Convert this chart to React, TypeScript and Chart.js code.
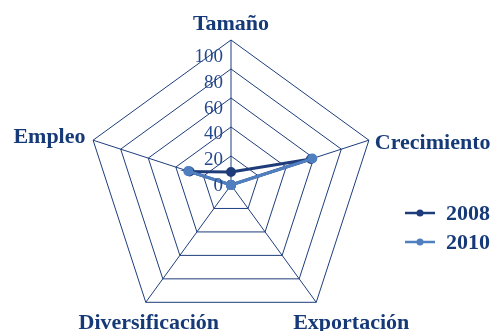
import React, { useEffect, useRef } from "react";
import { Chart, registerables } from "chart.js";

Chart.register(...registerables);

const categories = ["Tamaño", "Crecimiento", "Exportación", "Diversificación", "Empleo"];
const seriesNames = ["2008", "2010"];
const values2008 = [9, 58, 0, 0, 30];
const values2010 = [0, 59, 0, 0, 31];
const tickValues = [0, 20, 40, 60, 80, 100];

const NAVY = "#1d3d7c";
const TEXT = "#163a78";
const COLORS = ["#1f3c7a", "#4f7fbf"];

const labelPlugin = {
  id: "customLabels",
  afterDraw(chart: any) {
    const ctx = chart.ctx;
    const scale = chart.scales.r;
    const xc = scale.xCenter;
    const yc = scale.yCenter;
    ctx.save();
    // tick labels
    ctx.font = '19px "Liberation Serif"';
    ctx.fillStyle = "#24498c";
    ctx.textAlign = "right";
    ctx.textBaseline = "middle";
    tickValues.forEach((v) => {
      const d = scale.getDistanceFromCenterForValue(v) * 0.89;
      ctx.fillText(String(v), xc - 8, yc - d + 1);
    });
    // point labels
    ctx.font = 'bold 22px "Liberation Serif"';
    ctx.fillStyle = TEXT;
    ctx.textBaseline = "middle";
    const R = scale.drawingArea;
    const cfg = [
      { extra: 16, dx: 0, dy: 0, align: "center" },
      { extra: 2, dx: 4, dy: 4, align: "left" },
      { extra: 0, dx: 35, dy: 21, align: "center" },
      { extra: 0, dx: 3, dy: 21, align: "center" },
      { extra: 8, dx: 0, dy: 0, align: "right" },
    ];
    categories.forEach((label, i) => {
      const c = cfg[i];
      const p = scale.getPointPosition(i, R + c.extra);
      ctx.textAlign = c.align;
      ctx.fillText(label, p.x + c.dx, p.y + c.dy);
    });
    // legend
    chart.data.datasets.forEach((ds: any, i: number) => {
      const y = 213 + i * 29;
      ctx.strokeStyle = ds.borderColor;
      ctx.lineWidth = 2.5;
      ctx.beginPath();
      ctx.moveTo(405, y);
      ctx.lineTo(435, y);
      ctx.stroke();
      ctx.fillStyle = ds.borderColor;
      ctx.beginPath();
      ctx.arc(420, y, 3.5, 0, Math.PI * 2);
      ctx.fill();
      ctx.fillStyle = TEXT;
      ctx.textAlign = "left";
      ctx.font = 'bold 22px "Liberation Serif"';
      ctx.fillText(ds.label, 446, y + 1);
    });
    ctx.restore();
  },
};

export default function App() {
  const ref = useRef<HTMLCanvasElement>(null);
  useEffect(() => {
    const chart = new Chart(ref.current!, {
      type: "radar",
      data: {
        labels: categories,
        datasets: [
          {
            label: seriesNames[0],
            data: values2008,
            order: 1,
            borderColor: COLORS[0],
            backgroundColor: COLORS[0],
            pointBackgroundColor: COLORS[0],
            pointBorderColor: COLORS[0],
            borderWidth: 3,
            pointRadius: 3.5,
            fill: false,
          },
          {
            label: seriesNames[1],
            data: values2010,
            order: 0,
            borderColor: COLORS[1],
            backgroundColor: COLORS[1],
            pointBackgroundColor: COLORS[1],
            pointBorderColor: COLORS[1],
            borderWidth: 3,
            pointRadius: 3.5,
            fill: false,
          },
        ],
      },
      options: {
        animation: false,
        responsive: true,
        maintainAspectRatio: false,
        layout: { padding: { left: 82, right: 116, top: 40, bottom: -7 } },
        plugins: { legend: { display: false }, tooltip: { enabled: false } },
        scales: {
          r: {
            min: 0,
            max: 100,
            ticks: { display: false, stepSize: 20 },
            pointLabels: { display: false },
            grid: { color: NAVY, lineWidth: 1 },
            angleLines: { color: NAVY, lineWidth: 1 },
          },
        },
      },
      plugins: [labelPlugin],
    });
    return () => chart.destroy();
  }, []);
  return (
    <div style={{ position: "fixed", left: 0, top: 0, width: 496, height: 331 }}>
      <canvas ref={ref} />
    </div>
  );
}
